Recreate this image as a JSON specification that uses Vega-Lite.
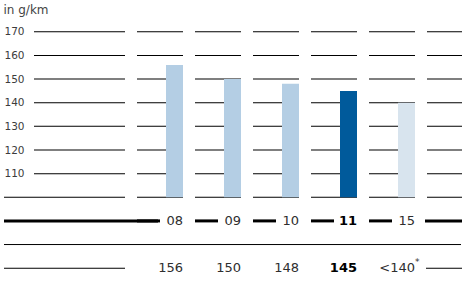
{
  "$schema": "https://vega.github.io/schema/vega-lite/v6.json",
  "width": 457,
  "height": 260,
  "autosize": {"type": "none"},
  "padding": {"left": 4, "top": 20, "right": 6, "bottom": 7},
  "title": {"text": "in g/km", "anchor": "start", "offset": 3, "fontSize": 12, "fontWeight": "normal", "font": "DejaVu Sans", "color": "#444444"},
  "config": {"view": {"stroke": null}, "text": {"font": "DejaVu Sans"}},
  "datasets": {
    "years": [
      {"col": "08", "value": 156, "label": "156"},
      {"col": "09", "value": 150, "label": "150"},
      {"col": "10", "value": 148, "label": "148"},
      {"col": "11", "value": 145, "label": "145"},
      {"col": "15", "value": 140, "label": "<140", "note": "*"}
    ],
    "grid": [
      {"col": "L", "v": [110, 120, 130, 140, 150, 160, 170]},
      {"col": "08", "v": [100, 110, 120, 130, 140, 150, 160, 170]},
      {"col": "09", "v": [100, 110, 120, 130, 140, 150, 160, 170]},
      {"col": "10", "v": [100, 110, 120, 130, 140, 150, 160, 170]},
      {"col": "11", "v": [100, 110, 120, 130, 140, 150, 160, 170]},
      {"col": "15", "v": [100, 110, 120, 130, 140, 150, 160, 170]},
      {"col": "E", "v": [100, 110, 120, 130, 140, 150, 160, 170]}
    ]
  },
  "data": {"name": "years"},
  "layer": [
    {
      "data": {"name": "grid"},
      "transform": [{"flatten": ["v"]}, {"filter": "datum.col != 'L' && datum.col != 'E'"}],
      "mark": {"type": "tick", "orient": "horizontal", "size": 46, "thickness": 1, "color": "#000000", "opacity": 1},
      "encoding": {
        "x": {"field": "col", "type": "nominal", "scale": {"type": "band", "domain": ["L", "08", "09", "10", "11", "15", "E"], "range": [75, 469], "paddingInner": 0.2069, "paddingOuter": 0}, "axis": null},
        "y": {"field": "v", "type": "quantitative", "scale": {"domain": [65, 175], "nice": false, "zero": false},
          "axis": {"values": [110, 120, 130, 140, 150, 160, 170], "title": null, "domain": false, "ticks": false, "tickSize": 0, "grid": false, "labelPadding": 0, "offset": -20, "labelFontSize": 10.5, "labelColor": "#3c3c3c", "labelFont": "DejaVu Sans"}}
      }
    },
    {
      "data": {"name": "grid"},
      "transform": [{"flatten": ["v"]}, {"filter": "datum.col == 'E'"}],
      "mark": {"type": "tick", "orient": "horizontal", "size": 35, "xOffset": -5.5, "thickness": 1, "color": "#000000", "opacity": 1},
      "encoding": {
        "x": {"field": "col", "type": "nominal", "scale": {"type": "band", "domain": ["L", "08", "09", "10", "11", "15", "E"], "range": [75, 469], "paddingInner": 0.2069, "paddingOuter": 0}, "axis": null},
        "y": {"field": "v", "type": "quantitative", "scale": {"domain": [65, 175], "nice": false, "zero": false}}
      }
    },
    {
      "data": {"name": "grid"},
      "transform": [{"flatten": ["v"]}, {"filter": "datum.col == 'L'"}],
      "mark": {"type": "tick", "orient": "horizontal", "size": 91, "xOffset": -22.5, "thickness": 1, "color": "#000000", "opacity": 1},
      "encoding": {
        "x": {"field": "col", "type": "nominal", "scale": {"type": "band", "domain": ["L", "08", "09", "10", "11", "15", "E"], "range": [75, 469], "paddingInner": 0.2069, "paddingOuter": 0}, "axis": null},
        "y": {"field": "v", "type": "quantitative", "scale": {"domain": [65, 175], "nice": false, "zero": false}}
      }
    },
    {
      "data": {"values": [{}]},
      "mark": {"type": "tick", "orient": "horizontal", "size": 121, "xOffset": -37.5, "thickness": 1, "color": "#000000", "opacity": 1},
      "encoding": {
        "x": {"datum": "L", "type": "nominal", "scale": {"type": "band", "domain": ["L", "08", "09", "10", "11", "15", "E"], "range": [75, 469], "paddingInner": 0.2069, "paddingOuter": 0}, "axis": null},
        "y": {"datum": 100, "type": "quantitative", "scale": {"domain": [65, 175], "nice": false, "zero": false}}
      }
    },
    {
      "data": {"values": [{}]},
      "mark": {"type": "tick", "orient": "horizontal", "size": 121, "xOffset": -37.5, "thickness": 1, "color": "#000000", "opacity": 1},
      "encoding": {
        "x": {"datum": "L", "type": "nominal", "scale": {"type": "band", "domain": ["L", "08", "09", "10", "11", "15", "E"], "range": [75, 469], "paddingInner": 0.2069, "paddingOuter": 0}, "axis": null},
        "y": {"datum": 70, "type": "quantitative", "scale": {"domain": [65, 175], "nice": false, "zero": false}}
      }
    },
    {
      "data": {"values": [{}]},
      "mark": {"type": "tick", "orient": "horizontal", "size": 36, "xOffset": -6, "thickness": 1, "color": "#000000", "opacity": 1},
      "encoding": {
        "x": {"datum": "E", "type": "nominal", "scale": {"type": "band", "domain": ["L", "08", "09", "10", "11", "15", "E"], "range": [75, 469], "paddingInner": 0.2069, "paddingOuter": 0}, "axis": null},
        "y": {"datum": 70, "type": "quantitative", "scale": {"domain": [65, 175], "nice": false, "zero": false}}
      }
    },
    {
      "data": {"values": [{}]},
      "mark": {"type": "tick", "orient": "horizontal", "size": 154, "xOffset": -21, "thickness": 3, "color": "#000000", "opacity": 1},
      "encoding": {
        "x": {"datum": "L", "type": "nominal", "scale": {"type": "band", "domain": ["L", "08", "09", "10", "11", "15", "E"], "range": [75, 469], "paddingInner": 0.2069, "paddingOuter": 0}, "axis": null},
        "y": {"datum": 90, "type": "quantitative", "scale": {"domain": [65, 175], "nice": false, "zero": false}}
      }
    },
    {
      "mark": {"type": "tick", "orient": "horizontal", "size": 23, "xOffset": -11.5, "thickness": 3, "color": "#000000", "opacity": 1},
      "encoding": {
        "x": {"field": "col", "type": "nominal", "scale": {"type": "band", "domain": ["L", "08", "09", "10", "11", "15", "E"], "range": [75, 469], "paddingInner": 0.2069, "paddingOuter": 0}, "axis": null},
        "y": {"datum": 90, "type": "quantitative", "scale": {"domain": [65, 175], "nice": false, "zero": false}}
      }
    },
    {
      "data": {"values": [{}]},
      "mark": {"type": "tick", "orient": "horizontal", "size": 37, "xOffset": -6.5, "thickness": 3, "color": "#000000", "opacity": 1},
      "encoding": {
        "x": {"datum": "E", "type": "nominal", "scale": {"type": "band", "domain": ["L", "08", "09", "10", "11", "15", "E"], "range": [75, 469], "paddingInner": 0.2069, "paddingOuter": 0}, "axis": null},
        "y": {"datum": 90, "type": "quantitative", "scale": {"domain": [65, 175], "nice": false, "zero": false}}
      }
    },
    {
      "data": {"values": [{}]},
      "mark": {"type": "rule", "strokeWidth": 1, "color": "#000000"},
      "encoding": {
        "y": {"datum": 80, "type": "quantitative", "scale": {"domain": [65, 175], "nice": false, "zero": false}}
      }
    },
    {
      "mark": {"type": "bar", "width": 17, "xOffset": 14.5},
      "encoding": {
        "x": {"field": "col", "type": "nominal", "scale": {"type": "band", "domain": ["L", "08", "09", "10", "11", "15", "E"], "range": [75, 469], "paddingInner": 0.2069, "paddingOuter": 0}, "axis": null},
        "y": {"field": "value", "type": "quantitative", "scale": {"domain": [65, 175], "nice": false, "zero": false}},
        "y2": {"datum": 100},
        "color": {"field": "col", "type": "nominal", "scale": {"domain": ["08", "09", "10", "11", "15"], "range": ["#b4cee4", "#b4cee4", "#b4cee4", "#005a9b", "#d8e4ee"]}, "legend": null}
      }
    },
    {
      "transform": [{"filter": "datum.col != '11'"}],
      "mark": {"type": "text", "align": "right", "baseline": "middle", "fontSize": 13, "color": "#2e2e2e"},
      "encoding": {
        "x": {"field": "col", "type": "nominal", "bandPosition": 1, "scale": {"type": "band", "domain": ["L", "08", "09", "10", "11", "15", "E"], "range": [75, 469], "paddingInner": 0.2069, "paddingOuter": 0}, "axis": null},
        "y": {"datum": 90, "type": "quantitative", "scale": {"domain": [65, 175], "nice": false, "zero": false}},
        "text": {"field": "col"}
      }
    },
    {
      "transform": [{"filter": "datum.col == '11'"}],
      "mark": {"type": "text", "align": "right", "baseline": "middle", "fontSize": 13, "fontWeight": "bold", "color": "#000000"},
      "encoding": {
        "x": {"field": "col", "type": "nominal", "bandPosition": 1, "scale": {"type": "band", "domain": ["L", "08", "09", "10", "11", "15", "E"], "range": [75, 469], "paddingInner": 0.2069, "paddingOuter": 0}, "axis": null},
        "y": {"datum": 90, "type": "quantitative", "scale": {"domain": [65, 175], "nice": false, "zero": false}},
        "text": {"field": "col"}
      }
    },
    {
      "transform": [{"filter": "datum.col != '11'"}],
      "mark": {"type": "text", "align": "right", "baseline": "middle", "fontSize": 13, "color": "#2e2e2e"},
      "encoding": {
        "x": {"field": "col", "type": "nominal", "bandPosition": 1, "scale": {"type": "band", "domain": ["L", "08", "09", "10", "11", "15", "E"], "range": [75, 469], "paddingInner": 0.2069, "paddingOuter": 0}, "axis": null},
        "y": {"datum": 70, "type": "quantitative", "scale": {"domain": [65, 175], "nice": false, "zero": false}},
        "text": {"field": "label"}
      }
    },
    {
      "transform": [{"filter": "datum.col == '11'"}],
      "mark": {"type": "text", "align": "right", "baseline": "middle", "fontSize": 13, "fontWeight": "bold", "color": "#000000"},
      "encoding": {
        "x": {"field": "col", "type": "nominal", "bandPosition": 1, "scale": {"type": "band", "domain": ["L", "08", "09", "10", "11", "15", "E"], "range": [75, 469], "paddingInner": 0.2069, "paddingOuter": 0}, "axis": null},
        "y": {"datum": 70, "type": "quantitative", "scale": {"domain": [65, 175], "nice": false, "zero": false}},
        "text": {"field": "label"}
      }
    },
    {
      "transform": [{"filter": "isValid(datum.note)"}],
      "mark": {"type": "text", "align": "left", "baseline": "middle", "fontSize": 9, "dx": 0, "dy": -6, "color": "#2e2e2e"},
      "encoding": {
        "x": {"field": "col", "type": "nominal", "bandPosition": 1, "scale": {"type": "band", "domain": ["L", "08", "09", "10", "11", "15", "E"], "range": [75, 469], "paddingInner": 0.2069, "paddingOuter": 0}, "axis": null},
        "y": {"datum": 70, "type": "quantitative", "scale": {"domain": [65, 175], "nice": false, "zero": false}},
        "text": {"field": "note"}
      }
    }
  ]
}
